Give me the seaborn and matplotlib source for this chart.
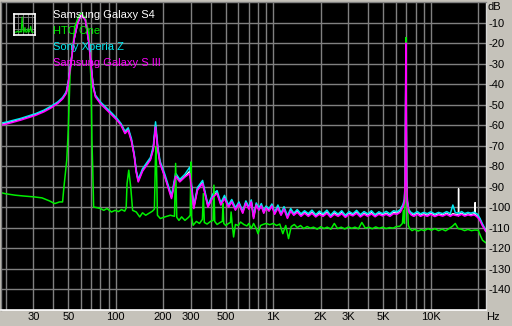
import numpy as np
import pandas as pd
import matplotlib
matplotlib.use("Agg")
import matplotlib.pyplot as plt
import seaborn as sns
from matplotlib.ticker import FixedLocator, FixedFormatter, LogLocator, NullFormatter

sns.set_style("dark")
plt.rcParams['font.family'] = ['Liberation Sans', 'DejaVu Sans']

# ---------------- data (Hz, dB) ----------------
freq = [
    18.7, 20, 22, 25, 28, 31, 35, 39, 43, 46,
    48.5, 50, 52.3, 54.3, 57.3, 60.3, 64.2, 67.6, 69.8, 71.9,
    74.4, 80, 88, 95, 102, 108, 114.5, 120, 126, 131,
    135, 139, 148, 156, 166, 173, 179, 185, 191, 205,
    226, 240, 255, 275, 295, 313, 330, 356, 385, 415,
    440, 465, 490, 520, 545, 575, 605, 640, 670, 700,
    725, 750, 780, 810, 840, 870, 900, 940, 980, 1020,
    1070, 1120, 1170, 1230, 1290, 1350, 1420, 1500, 1580, 1670,
    1760, 1860, 1960, 2070, 2190, 2310, 2440, 2580, 2720, 2870,
    3030, 3200, 3380, 3570, 3770, 3980, 4200, 4430, 4680, 4940,
    5210, 5500, 5800, 6100, 6400, 6650, 6800, 6880, 6950, 7020,
    7100, 7250, 7500, 7800, 8200, 8600, 9000, 9500, 10000, 10600,
    11200, 11900, 12600, 13300, 13800, 14300, 14950, 15000, 15050, 15700,
    16400, 17200, 18000, 18700, 19050, 19100, 19150, 19800, 20500, 21200,
    22000, 22400,
]

s3_db = [
    -60, -59.5, -58.7, -57.5, -56.3, -55.2, -53.5, -51.5, -49.3, -47.2,
    -44.5, -39.6, -28.2, -18.5, -10.3, -6.3, -8.7, -20, -31.5, -41.3,
    -46.2, -49.5, -52.7, -55.2, -57.6, -60, -64.1, -62.5, -68, -75,
    -83, -87.7, -82.5, -80, -77, -72, -61, -72, -78.7, -85.3,
    -95.8, -85, -87.7, -85.3, -83.6, -100.7, -91.8, -88.5, -100, -95,
    -93.4, -99, -95.8, -100, -97.5, -101.5, -98.5, -103, -98, -101,
    -97.5, -105.6, -99, -101.5, -99.5, -103, -100.5, -102, -99.5, -103.5,
    -100.5, -104, -101, -105.5, -102, -104, -102.5, -104.5, -103, -104.5,
    -103, -104.8, -103.5, -104.5, -103, -105, -103.5, -104.5, -103.2, -105,
    -103.5, -104.3, -103, -104.8, -103.5, -104.5, -103.3, -104.7, -103.5, -104.3,
    -103.5, -104.5, -103.2, -103.5, -102.5, -100, -97.5, -87, -20, -87,
    -98, -102.4, -103.8, -104.5, -103.5, -104.5, -103.8, -104.5, -103.5, -104.6,
    -103.8, -104.4, -103.5, -104.5, -103.7, -104, -104.3, -104, -104.2, -103.5,
    -104.4, -103.8, -104.2, -103.8, -104, -104, -104.1, -105, -106.5, -108.9,
    -111, -112,
]

sony_db = [
    -59, -58.6, -57.8, -56.7, -55.5, -54.4, -52.7, -50.7, -48.6, -46.5,
    -43.8, -39, -27.8, -18.2, -10, -6.2, -8.5, -19.6, -31, -40.5,
    -45.4, -48.7, -51.8, -54.3, -56.8, -59.2, -63, -61.3, -66.8, -74,
    -82, -86.5, -81.3, -78.8, -75.8, -70.5, -58.4, -70.5, -77.5, -84,
    -94.5, -83.5, -86.5, -84, -80.5, -99.5, -90.5, -87, -99, -93.5,
    -92, -98, -94.3, -99, -96.3, -100.3, -97.5, -102, -97, -100,
    -96.5, -104.5, -98, -100.5, -98.3, -102, -99.5, -100.8, -98.5, -102.5,
    -99, -103, -99.8, -104.3, -100.7, -103, -101.2, -103.3, -101.8, -103.2,
    -101.5, -103.7, -102, -103.3, -101.5, -104, -102, -103.4, -101.8, -104,
    -102.2, -103.3, -101.6, -103.7, -102.2, -103.3, -101.8, -103.7, -102.3, -103.2,
    -102.1, -103.3, -101.8, -102.3, -101.2, -98.8, -96.2, -85.5, -20.5, -85.5,
    -96.8, -101.3, -102.7, -103.3, -102.2, -103.3, -102.6, -103.2, -102.3, -103.4,
    -102.6, -103.2, -102.2, -103.2, -99, -102.7, -103, -102.8, -103, -102.2,
    -103.2, -102.6, -103, -102.5, -102.8, -102.8, -102.9, -103.5, -105.5, -108,
    -110.3, -111.5,
]

s4_db = [
    -59.6, -59.1, -58.3, -57.1, -55.9, -54.8, -53.1, -51.1, -49, -46.9,
    -44.2, -39.3, -28, -18.4, -10.2, -6.3, -8.6, -19.8, -31.3, -41,
    -45.9, -49.2, -52.4, -54.9, -57.3, -59.7, -63.7, -62, -67.6, -74.7,
    -82.7, -87.3, -82, -79.5, -76.6, -71.5, -60.2, -71.5, -78.3, -85,
    -95.2, -84.5, -87.2, -85, -82.5, -100.3, -91.3, -88, -99.6, -94.5,
    -93, -98.6, -95.2, -99.6, -97, -101, -98, -102.6, -97.6, -100.6,
    -97, -105, -98.6, -101, -99, -102.6, -100, -101.4, -99, -103,
    -100, -103.6, -100.5, -105, -101.4, -103.6, -102, -104, -102.4, -104,
    -102.4, -104.3, -102.8, -104, -102.4, -104.5, -102.8, -104, -102.6, -104.5,
    -103, -103.8, -102.4, -104.3, -103, -104, -102.7, -104.2, -103, -103.8,
    -103, -104, -102.6, -103, -102, -99.5, -97, -86.5, -20.2, -86.5,
    -97.5, -102, -103.3, -104, -103, -104, -103.3, -104, -103, -104,
    -103.3, -103.9, -103, -104, -103.2, -103.5, -103.8, -91, -103.7, -103,
    -103.9, -103.3, -103.7, -103.3, -103.5, -97.8, -103.6, -104.5, -106, -108.5,
    -110.7, -111.8,
]

htc_freq = [
    18.7, 20, 23, 26, 30, 34, 38, 41, 44, 46,
    46.8, 48.9, 50, 51.3, 55, 58, 60.3, 64.2, 67.6, 69.8,
    70.6, 71.5, 72.4, 76, 80, 84, 88, 94, 99, 104,
    109, 114, 116.5, 118, 121, 124.5, 128, 135, 142, 148,
    155, 163, 171, 176, 178.5, 180, 181.5, 184, 192, 205,
    222, 236, 240, 244, 252, 262, 275, 290, 297, 300,
    303, 310, 325, 340, 355, 360, 365, 380, 400, 415,
    420, 425, 440, 460, 475, 480, 485, 500, 520, 535,
    540, 548, 560, 575, 600, 620, 650, 680, 700, 725,
    750, 780, 800, 830, 860, 900, 950, 1000, 1050, 1100,
    1150, 1200, 1250, 1300, 1360, 1420, 1490, 1560, 1640, 1720,
    1800, 1900, 2000, 2100, 2200, 2320, 2440, 2560, 2700, 2840,
    3000, 3150, 3300, 3470, 3650, 3840, 4040, 4250, 4470, 4700,
    4950, 5200, 5470, 5760, 6050, 6350, 6600, 6700, 6800, 6900,
    6950, 7000, 7100, 7200, 7350, 7600, 7900, 8300, 8700, 9100,
    9600, 10100, 10600, 11200, 11800, 12400, 13000, 13700, 14300, 14900,
    15600, 16400, 17200, 18100, 19000, 20000, 20600, 21300, 22000, 22400,
]

htc_db = [
    -93, -93.5, -94.2, -94.6, -95, -95.5, -97, -98.3, -97.5, -97.5,
    -91, -77, -62, -35, -12, -7.1, -5.4, -7.9, -15.2, -39.6,
    -67, -82, -100, -100.3, -100.7, -101.6, -100.7, -102.4, -101.6, -102.2,
    -101.2, -102, -100.5, -88.5, -82, -90.2, -101.6, -102.4, -104.8, -102.8,
    -104, -103, -102, -101, -78, -70.6, -80, -104, -105.6, -104.8,
    -104, -104.5, -78.7, -105, -106.5, -104.8, -106.5, -105, -104, -78,
    -105, -108.9, -107, -108, -106, -93.4, -107.5, -108.3, -107, -106.5,
    -89.3, -107, -108.5, -107.5, -107, -98.3, -108, -109, -108, -107.5,
    -102.4, -108, -114.6, -108.5, -109, -107.3, -108.5, -109.2, -108, -110.5,
    -108, -110.5, -113, -109, -108.5, -108, -108.6, -108, -109, -108.3,
    -113, -109, -115.4, -109.5, -108.5, -110, -109, -110.5, -109.5, -110.3,
    -109.8, -110.8, -109.6, -110.5, -109.8, -110.8, -108, -110.5, -109.8, -110.7,
    -109.7, -110.4, -109.8, -110.6, -107.5, -110.3, -109.8, -110.6, -109.7, -110.4,
    -109.8, -110.5, -110, -110.3, -109.5, -109.4, -108, -101.6, -108, -90,
    -17.3, -90, -98.3, -109, -110.5, -111.5, -110.8, -111.7, -111, -111.5,
    -110.5, -111.3, -110.5, -111.5, -110.8, -111.6, -110.6, -109.4, -108, -110.5,
    -110.8, -111.5, -110.9, -111.5, -111.2, -111.3, -113.8, -116.2, -117, -117.5,
]

series_names = ["Samsung Galaxy S4", "HTC One", "Sony Xperia Z", "Samsung Galaxy S III"]
series_colors = ["#ffffff", "#00f000", "#00e8f0", "#ff00ff"]

xtick_vals = [30, 50, 100, 200, 300, 500, 1000, 2000, 3000, 5000, 10000]
xtick_labels = ["30", "50", "100", "200", "300", "500", "1K", "2K", "3K", "5K", "10K"]
ytick_vals = [-10, -20, -30, -40, -50, -60, -70, -80, -90, -100, -110, -120, -130, -140]
ytick_labels = ["-10", "-20", "-30", "-40", "-50", "-60", "-70", "-80", "-90",
                "-100", "-110", "-120", "-130", "-140"]

icon_x = [0, 1, 2, 3, 4, 5, 6, 7, 8, 9, 10, 11, 12, 13, 14, 15, 16, 17, 18, 19, 20]
icon_y = [2, 2, 2, 3, 2, 2, 3, 2, 15, 3, 2, 6, 2, 2, 5, 2, 3, 7, 2, 2, 2]

# ---------------- figure ----------------
bg = "#c5c2ba"
fig = plt.figure(figsize=(5.12, 3.26), dpi=100, facecolor=bg)
W, H = 512.0, 326.0
ax = fig.add_axes([1 / W, (H - 309.5) / H, 485 / W, (309.5 - 2.2) / H])
ax.set_facecolor("black")

df_s4 = pd.DataFrame({"Hz": freq, "dB": s4_db})
df_sony = pd.DataFrame({"Hz": freq, "dB": sony_db})
df_htc = pd.DataFrame({"Hz": htc_freq, "dB": htc_db})
df_s3 = pd.DataFrame({"Hz": freq, "dB": s3_db})

sns.lineplot(data=df_s4, x="Hz", y="dB", color=series_colors[0], lw=1.0, ax=ax, estimator=None, sort=False)
sns.lineplot(data=df_sony, x="Hz", y="dB", color=series_colors[2], lw=1.1, ax=ax, estimator=None, sort=False)
sns.lineplot(data=df_htc, x="Hz", y="dB", color=series_colors[1], lw=1.1, ax=ax, estimator=None, sort=False)
sns.lineplot(data=df_s3, x="Hz", y="dB", color=series_colors[3], lw=1.2, ax=ax, estimator=None, sort=False)

ax.set_xscale("log")
ax.set_xlim(18.7, 22400)
ax.set_ylim(-150, 0)

ax.xaxis.set_major_locator(FixedLocator(xtick_vals))
ax.xaxis.set_major_formatter(FixedFormatter(xtick_labels))
ax.xaxis.set_minor_locator(LogLocator(base=10, subs=np.arange(1, 10), numticks=50))
ax.xaxis.set_minor_formatter(NullFormatter())
ax.yaxis.set_major_locator(FixedLocator(ytick_vals))
ax.yaxis.set_major_formatter(FixedFormatter(ytick_labels))
ax.yaxis.tick_right()

ax.grid(which="both", axis="x", color="#808080", lw=1.0)
ax.grid(which="major", axis="y", color="#808080", lw=1.0)
ax.set_axisbelow(True)
ax.tick_params(axis="both", which="both", length=0, labelsize=8, labelcolor="black")
ax.tick_params(axis="x", pad=1.5)
ax.tick_params(axis="y", pad=1.5)
ax.set_xlabel("")
ax.set_ylabel("")

for side in ["left", "top"]:
    ax.spines[side].set_color("#808080")
    ax.spines[side].set_linewidth(1.0)
ax.spines["bottom"].set_color("white")
ax.spines["bottom"].set_linewidth(1.2)
ax.spines["right"].set_color("#d8d8d8")
ax.spines["right"].set_linewidth(1.0)

fig.text(487 / W, 1 - 7.5 / H, "dB", ha="left", va="center", fontsize=8, color="black")
fig.text(486.5 / W, 1 - 316.5 / H, "Hz", ha="left", va="center", fontsize=8, color="black")

# legend as coloured text
for i, (name, col) in enumerate(zip(series_names, series_colors)):
    fig.text(53 / W, 1 - (15 + 16 * i) / H, name, ha="left", va="center",
             fontsize=8, color=col)

# small icon
iax = fig.add_axes([13.5 / W, 1 - 34.5 / H, 21 / W, 21 / H])
iax.set_facecolor("black")
sns.lineplot(x=icon_x, y=icon_y, color="#00e000", lw=0.8, ax=iax, estimator=None)
iax.set_xlim(-1, 21)
iax.set_ylim(0, 18)
iax.set_xticks([4, 9, 14, 18])
iax.set_yticks([5, 10, 15])
iax.grid(True, color="#808080", lw=0.6)
iax.tick_params(length=0, labelbottom=False, labelleft=False)
iax.set_xlabel("")
iax.set_ylabel("")
for s in iax.spines.values():
    s.set_color("white")
    s.set_linewidth(1.2)

fig.savefig("out.png", dpi=100, facecolor=bg)
